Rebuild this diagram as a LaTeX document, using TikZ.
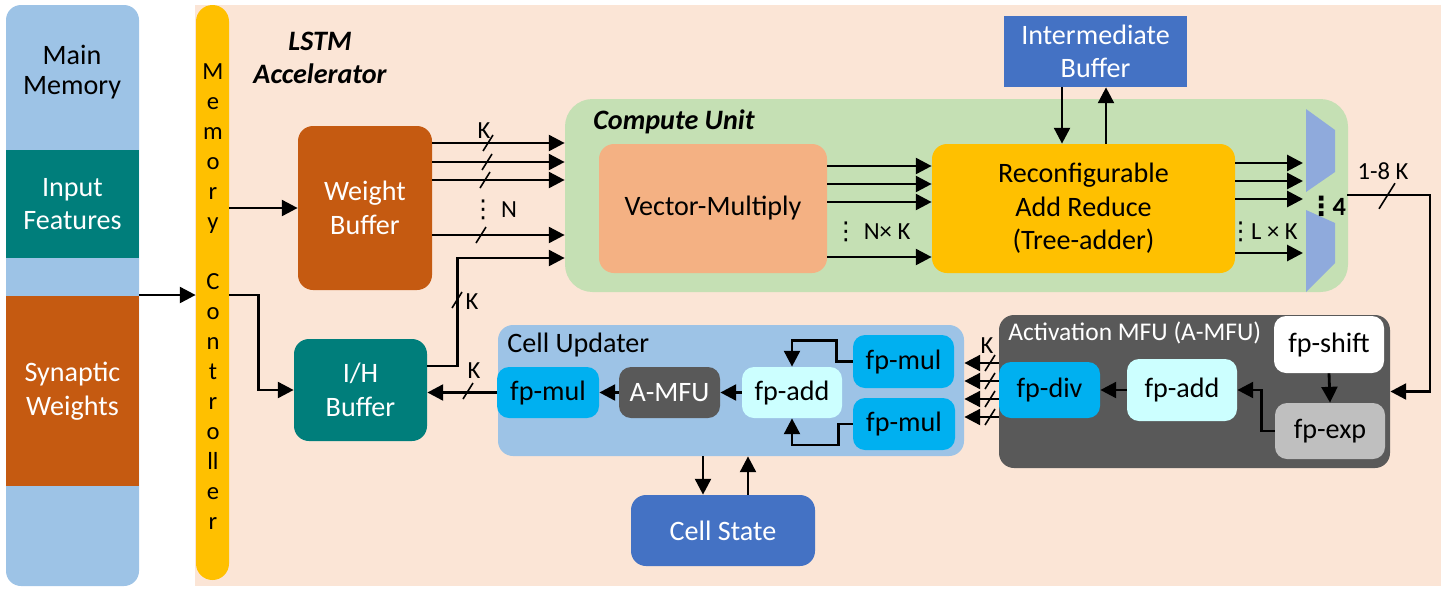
\documentclass[tikz,border=0pt]{standalone}
\usepackage{fontspec}
\setmainfont{Carlito}
\newfontfamily\symfont{DejaVu Sans}
\usetikzlibrary{arrows.meta}

\definecolor{memblue}{HTML}{9DC3E6}
\definecolor{featteal}{HTML}{007E7B}
\definecolor{wbrown}{HTML}{C55A11}
\definecolor{accpeach}{HTML}{FBE5D6}
\definecolor{ctlyellow}{HTML}{FFC000}
\definecolor{cugreen}{HTML}{C5E0B4}
\definecolor{vmsalmon}{HTML}{F4B183}
\definecolor{bufblue}{HTML}{4472C4}
\definecolor{muxblue}{HTML}{8FAADC}
\definecolor{fpcyan}{HTML}{00B0F0}
\definecolor{fplight}{HTML}{CCFFFF}
\definecolor{mfugray}{HTML}{595959}
\definecolor{expgray}{HTML}{BFBFBF}

\tikzset{
  sz/.style 2 args={minimum width=#1*0.02cm, minimum height=#2*0.02cm},
  blk/.style={inner sep=0pt, align=center, font=\fontsize{16}{19}\selectfont},
  rblk/.style={blk, rounded corners=0.3cm},
  fpblk/.style={blk, rounded corners=0.24cm},
  txt/.style={inner sep=0pt, align=center, font=\fontsize{16}{19}\selectfont},
  ttl/.style={txt, font=\fontsize{16}{19}\selectfont\bfseries\itshape},
  ctl/.style={inner sep=0pt, font=\fontsize{14}{16}\selectfont, text height=8pt, text depth=0pt},
  lbl/.style={inner sep=0pt, font=\fontsize{14}{16}\selectfont},
  arr/.style={line width=1.6pt, -{Triangle[length=9pt,width=9pt]}},
  bus/.pic={\draw[line width=0.9pt] (-5,8) -- (5,-8);},
}
\newcommand{\vdt}{{\symfont ⋮}}

\begin{document}
\begin{tikzpicture}[x=0.02cm, y=-0.02cm]
  \useasboundingbox (0,0) rectangle (1446,592);

  % main memory
  \node[blk, fill=memblue, sz={133}{581}, rounded corners=0.3cm] (mem) at (72.5,295.5) {};
  \node[txt, font=\fontsize{16}{17.5}\selectfont] (mmt) at (72,72) {Main\\Memory};
  \node[blk, fill=featteal, text=white, sz={133}{108}] (inf) at (72.5,204) {Input\\Features};
  \node[blk, fill=wbrown, text=white, sz={133}{190}] (syn) at (72.5,391) {Synaptic\\Weights};

  % accelerator
  \node[blk, fill=accpeach, sz={1246}{581}] (acc) at (818,295.5) {};
  \node[blk, fill=ctlyellow, sz={33}{575}, rounded corners=0.33cm] (mc) at (212.5,292.5) {};
  \foreach \ch [count=\i from 0] in {M,e,m,o,r,y}
    \node[ctl] (mca\i) at (213,72+30*\i) {\ch};
  \foreach \ch [count=\i from 0] in {C,o,n,t,r,o,ll,e,r}
    \node[ctl] (mcb\i) at (213,282+30.1*\i) {\ch};
  \node[ttl] (lstm) at (320,58) {LSTM\\Accelerator};

  \node[rblk, fill=wbrown, text=white, sz={134}{164}] (wb) at (365,208) {Weight\\Buffer};
  \node[rblk, fill=featteal, text=white, sz={133}{102}] (ih) at (360.5,390) {I/H\\Buffer};

  % compute unit
  \node[blk, fill=cugreen, sz={783}{193}, rounded corners=0.55cm] (cu) at (956.5,195.5) {};
  \node[ttl, anchor=west] (cut) at (593,122) {Compute Unit};
  \node[rblk, fill=vmsalmon, sz={228}{129}] (vm) at (713,208.5) {Vector-Multiply};
  \node[rblk, fill=ctlyellow, sz={303}{129}] (rar) at (1083.5,208.5) {Reconfigurable\\Add Reduce\\(Tree-adder)};
  \node[blk, fill=bufblue, text=white, sz={183}{71}] (ib) at (1095.5,51.5) {Intermediate\\Buffer};
  \fill[muxblue] (1306,109) -- (1335,130) -- (1335,172) -- (1306,192) -- cycle;
  \fill[muxblue] (1306,210) -- (1335,223) -- (1335,263) -- (1306,292) -- cycle;
  \coordinate (mux) at (1303,200);
  \coordinate (muxo) at (1347,195);
  \node[lbl, font=\fontsize{15}{16}\selectfont\bfseries] (mx4) at (1327,206) {\vdt\kern-1pt4};

  % cell updater
  \node[rblk, fill=memblue, sz={466}{131}] (cup) at (731,390.5) {};
  \node[txt, anchor=west] (cupt) at (507,345) {Cell Updater};
  \node[fpblk, fill=fpcyan, sz={102}{51}] (mul1) at (548,392.5) {fp-mul};
  \node[fpblk, fill=mfugray, text=white, sz={101}{51}] (amfu) at (669.5,392.5) {A-MFU};
  \node[fpblk, fill=fplight, sz={100}{51}] (cadd) at (792,392.5) {fp-add};
  \node[fpblk, fill=fpcyan, sz={101}{53}] (mul2) at (903.5,361.5) {fp-mul};
  \node[fpblk, fill=fpcyan, sz={102}{52}] (mul3) at (904,424) {fp-mul};
  \node[rblk, fill=bufblue, text=white, sz={184}{71}] (cs) at (723,530.5) {Cell State};

  % activation MFU
  \node[rblk, fill=mfugray, sz={391}{153}] (amf) at (1194.5,391.5) {};
  \node[txt, anchor=west, text=white, font=\fontsize{14.5}{17}\selectfont] (amft) at (1008,333) {Activation MFU (A-MFU)};
  \node[fpblk, fill=fpcyan, sz={101}{56}] (div) at (1049.5,390) {fp-div};
  \node[fpblk, fill=fplight, sz={110}{62}] (aadd) at (1182,390) {fp-add};
  \node[fpblk, fill=white, sz={110}{57}] (shift) at (1329,344.5) {fp-shift};
  \node[fpblk, fill=expgray, sz={110}{56}] (exp) at (1330,431) {fp-exp};

  % connectors
  \draw[arr] (syn.east |- 0,295) -- (mc.west |- 0,295);
  \draw[arr] (mc.east |- wb.west) -- (wb.west);
  \draw[arr] (mc.east |- 0,295) -- ++(29,0) |- (ih.west);
  \foreach \yy in {143,162,180,235}
    \draw[arr] (wb.east |- 0,\yy) -- (cu.west |- 0,\yy);
  \foreach \xx/\yy in {488/143,487/162,485/180,481/235}
    \pic at (\xx,\yy) {bus};
  \draw[arr] (ih.east |- 0,366) -- ++(30,0) |- (cu.west |- 0,258);
  \pic at (457,300) {bus};
  \draw[arr] (mul1.west) -- (mul1.west -| ih.east);
  \pic at (468,391) {bus};
  \foreach \yy in {166,184,202,257}
    \draw[arr] (vm.east |- 0,\yy) -- (rar.west |- 0,\yy);
  \foreach \yy in {163,181,199,253}
    \draw[arr] (rar.east |- 0,\yy) -- (mux |- 0,\yy);
  \draw[arr] (ib.south -| 1062,0) -- (rar.north -| 1062,0);
  \draw[arr] (rar.north -| 1106,0) -- (ib.south -| 1106,0);
  \draw[arr] (muxo) -- ++(83,0) |- (amf.east);
  \pic[scale=1.6] at (1387,196) {bus};

  \draw[arr] (shift.south) -- (exp.north);
  \draw[arr] (exp.west) -- ++(-13,0) |- (aadd.east);
  \draw[arr] (aadd.west) -- (div.east);
  \foreach \yy in {363,381,399,417} {
    \draw[arr] (div.west |- 0,\yy) -- (cup.east |- 0,\yy);
    \pic at (990,\yy) {bus};
  }

  \draw[arr] (cadd.west) -- (amfu.east);
  \draw[arr] (amfu.west) -- (mul1.east);
  \draw[arr] (mul2.west) -- ++(-16,0) -- ++(0,-21) -| (cadd.north);
  \draw[arr] (mul3.west) -- ++(-14,0) -- ++(0,21) -| (cadd.south);
  \draw[arr] (cup.south -| 703,0) -- (cs.north -| 703,0);
  \draw[arr] (cs.north -| 748,0) -- (cup.south -| 748,0);

  % labels
  \node[lbl] (kwb) at (484,131) {K};
  \node[lbl] (nwb) at (494,210) {\vdt\ N};
  \node[lbl] (kih) at (472,302) {K};
  \node[lbl] (kcu) at (474,371) {K};
  \node[lbl] (nk) at (872,232) {\vdt\ N× K};
  \node[lbl] (lk) at (1263,232) {\vdt\kern-1pt L × K};
  \node[lbl] (k18) at (1383,171) {1-8 K};
  \node[lbl] (kdiv) at (987,346) {K};
\end{tikzpicture}
\end{document}
